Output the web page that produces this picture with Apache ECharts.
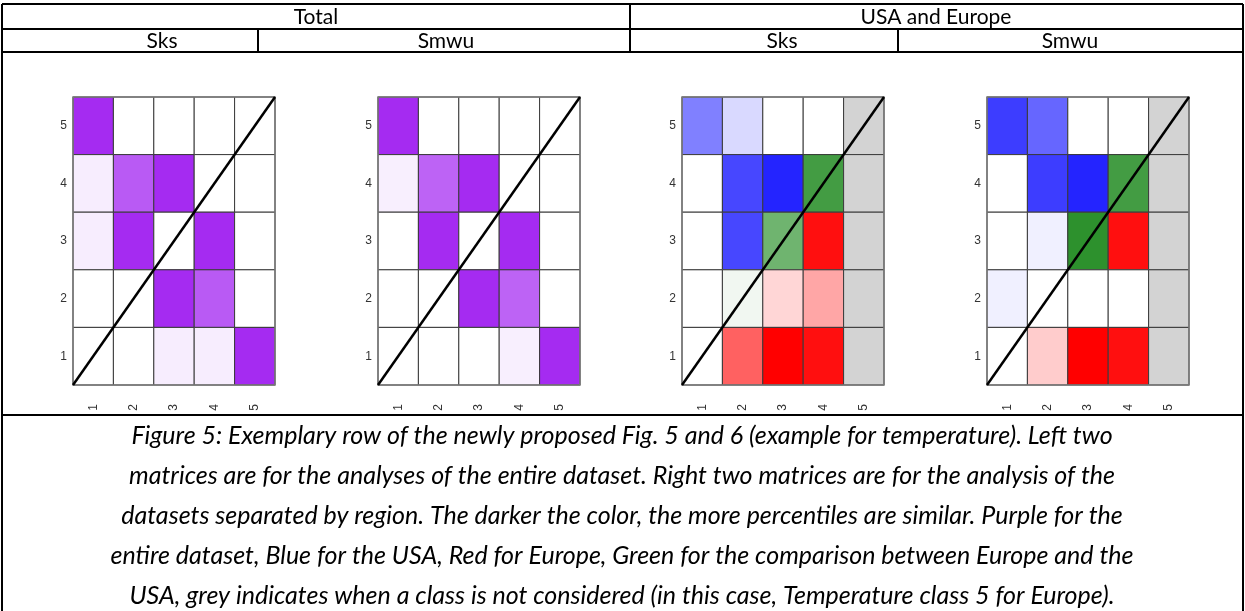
<!DOCTYPE html>
<html>
<head>
<meta charset="utf-8">
<script src="https://cdn.jsdelivr.net/npm/echarts@6/dist/echarts.min.js"></script>
<style>
  html, body { margin: 0; padding: 0; background: #fff; }
  #chart { width: 1245px; height: 611px; }
</style>
</head>
<body>
<div id="chart"></div>
<script>
// Class labels shared by both axes of every matrix
const classes = [1, 2, 3, 4, 5];

// Table headings
const groupHeadings = ['Total', 'USA and Europe'];
const testHeadings = ['Sks', 'Smwu', 'Sks', 'Smwu'];

// Similarity of percentiles per cell (0 = none, 1 = fully similar).
// Rows run from class 5 (top) to class 1 (bottom); columns from class 1 to 5.
// null marks a cell whose class is not considered.
const totalSks = [
  [0.95, 0,    0,    0,    0],
  [0.08, 0.74, 0.95, 0,    0],
  [0.08, 0.95, 0,    0.95, 0],
  [0,    0,    0.95, 0.74, 0],
  [0,    0,    0.08, 0.08, 0.95]
];
const totalSmwu = [
  [0.95, 0,    0,    0,    0],
  [0.07, 0.70, 0.95, 0,    0],
  [0,    0.95, 0,    0.95, 0],
  [0,    0,    0.95, 0.70, 0],
  [0,    0,    0,    0.07, 0.95]
];
const regionSks = [
  [0.50, 0.15,  0,    0,    null],
  [0,    0.72,  0.86, 0.85, null],
  [0,    0.72,  0.65, 0.94, null],
  [0,    0.065, 0.16, 0.35, null],
  [0,    0.62,  1.00, 0.94, null]
];
const regionSmwu = [
  [0.76, 0.60, 0,    0,    null],
  [0,    0.76, 0.86, 0.85, null],
  [0,    0.06, 0.95, 0.94, null],
  [0.06, 0,    0,    0,    null],
  [0,    0.20, 1.00, 0.94, null]
];

// Caption under the table
const captionLines = [
  'Figure 5: Exemplary row of the newly proposed Fig. 5 and 6 (example for temperature). Left two',
  'matrices are for the analyses of the entire dataset. Right two matrices are for the analysis of the',
  'datasets separated by region. The darker the color, the more percentiles are similar. Purple for the',
  'entire dataset, Blue for the USA, Red for Europe, Green for the comparison between Europe and the',
  'USA, grey indicates when a class is not considered (in this case, Temperature class 5 for Europe).'
];

// Base colours for each comparison type
const PURPLE = [160, 32, 240];
const BLUE = [0, 0, 255];
const RED = [255, 0, 0];
const GREEN = [34, 139, 34];
const GREY = '#d3d3d3';

function tint(rgb, a) {
  const c = rgb.map(v => Math.round(255 - a * (255 - v)));
  return 'rgb(' + c.join(',') + ')';
}

// One hue for the whole data set; otherwise USA above, Europe below, comparison on the diagonal
function cellColour(kind, x, y, v) {
  if (v === null) return GREY;
  if (kind === 'total') return tint(PURPLE, v);
  if (x === y) return tint(GREEN, v);
  return y > x ? tint(BLUE, v) : tint(RED, v);
}

function toCells(matrix) {
  const out = [];
  matrix.forEach((row, r) => {
    const y = classes[classes.length - 1 - r];
    row.forEach((v, c) => out.push([classes[c], y, v]));
  });
  return out;
}

const matrices = [
  { kind: 'total', data: totalSks },
  { kind: 'total', data: totalSmwu },
  { kind: 'region', data: regionSks },
  { kind: 'region', data: regionSmwu }
];

// Layout of the four panels
const panelLeft = [73, 378, 682, 987];
const panelWidth = 202;
const panelTop = 97;
const panelHeight = 288;

const grids = [], xAxes = [], yAxes = [], series = [];
matrices.forEach((m, i) => {
  grids.push({ left: panelLeft[i], top: panelTop, width: panelWidth, height: panelHeight, containLabel: false });
  const axisBase = {
    type: 'value', min: 0.5, max: 5.5, gridIndex: i,
    axisLine: { show: false }, axisTick: { show: false }, splitLine: { show: false }
  };
  xAxes.push(Object.assign({}, axisBase, {
    axisLabel: { customValues: classes, rotate: 90, margin: 19, fontFamily: 'Liberation Sans', fontSize: 12, color: '#333' }
  }));
  yAxes.push(Object.assign({}, axisBase, {
    axisLabel: { customValues: classes, margin: 6, fontFamily: 'Liberation Sans', fontSize: 12, color: '#333' }
  }));
  series.push({
    type: 'custom', xAxisIndex: i, yAxisIndex: i,
    data: toCells(m.data).map(d => ({ value: d })),
    encode: { x: 0, y: 1 },
    renderItem: function (params, api) {
      const x = api.value(0), y = api.value(1);
      const raw = m.data[classes.length - y][x - 1];
      const p0 = api.coord([x - 0.5, y + 0.5]);
      const p1 = api.coord([x + 0.5, y - 0.5]);
      return {
        type: 'rect',
        shape: { x: p0[0], y: p0[1], width: p1[0] - p0[0], height: p1[1] - p0[1] },
        style: { fill: cellColour(m.kind, x, y, raw), stroke: '#3a3a3a', lineWidth: 1 }
      };
    },
    silent: true
  });
  // diagonal reference line across the matrix
  series.push({
    type: 'line', xAxisIndex: i, yAxisIndex: i,
    data: [[0.5, 0.5], [5.5, 5.5]],
    symbol: 'none', silent: true,
    lineStyle: { color: '#000', width: 2.5 },
    z: 5
  });
  // outer frame
  series.push({
    type: 'custom', xAxisIndex: i, yAxisIndex: i, data: [[0.5, 5.5]], silent: true, z: 4,
    renderItem: function (params, api) {
      const p0 = api.coord([0.5, 5.5]);
      const p1 = api.coord([5.5, 0.5]);
      return {
        type: 'rect',
        shape: { x: p0[0], y: p0[1], width: p1[0] - p0[0], height: p1[1] - p0[1] },
        style: { fill: 'none', stroke: '#7a7a7a', lineWidth: 1.5 }
      };
    }
  });
});

// Table frame and texts
const L = 2, R = 1243, MID = 630;
const yTop = 4, yRow1 = 29, yRow2 = 52, ySep = 415, yBot = 611;
const subDiv = [258, 898];
const lineStyle = { stroke: '#000', lineWidth: 2 };
const seg = (x1, y1, x2, y2) => ({ type: 'line', shape: { x1, y1, x2, y2 }, style: lineStyle, silent: true });
const graphics = [
  seg(L, yTop, R, yTop), seg(L, yRow1, R, yRow1), seg(L, yRow2, R, yRow2), seg(L, ySep, R, ySep),
  seg(L, yTop, L, yBot), seg(R, yTop, R, yBot),
  seg(MID, yTop, MID, yRow2), seg(subDiv[0], yRow1, subDiv[0], yRow2), seg(subDiv[1], yRow1, subDiv[1], yRow2)
];
const headFont = { fontFamily: 'Lato', fontSize: 21, fill: '#000', align: 'center', verticalAlign: 'middle' };
const groupX = [316, 936];
const testX = [162, 446, 782, 1070];
groupHeadings.forEach((t, i) => {
  graphics.push({ type: 'text', x: groupX[i], y: (yTop + yRow1) / 2 + 1, style: Object.assign({ text: t }, headFont) });
});
testHeadings.forEach((t, i) => {
  graphics.push({ type: 'text', x: testX[i], y: (yRow1 + yRow2) / 2 + 1, style: Object.assign({ text: t }, headFont) });
});
captionLines.forEach((t, i) => {
  graphics.push({ type: 'text', x: 622, y: 436 + i * 40, style: { text: t, fontFamily: 'Lato', fontStyle: 'italic', fontSize: 25, fill: '#000', align: 'center', verticalAlign: 'middle' } });
});

const chart = echarts.init(document.getElementById('chart'), null, { renderer: 'canvas' });
chart.setOption({
  animation: false,
  backgroundColor: '#fff',
  grid: grids,
  xAxis: xAxes,
  yAxis: yAxes,
  series: series,
  graphic: graphics
});
</script>
</body>
</html>
